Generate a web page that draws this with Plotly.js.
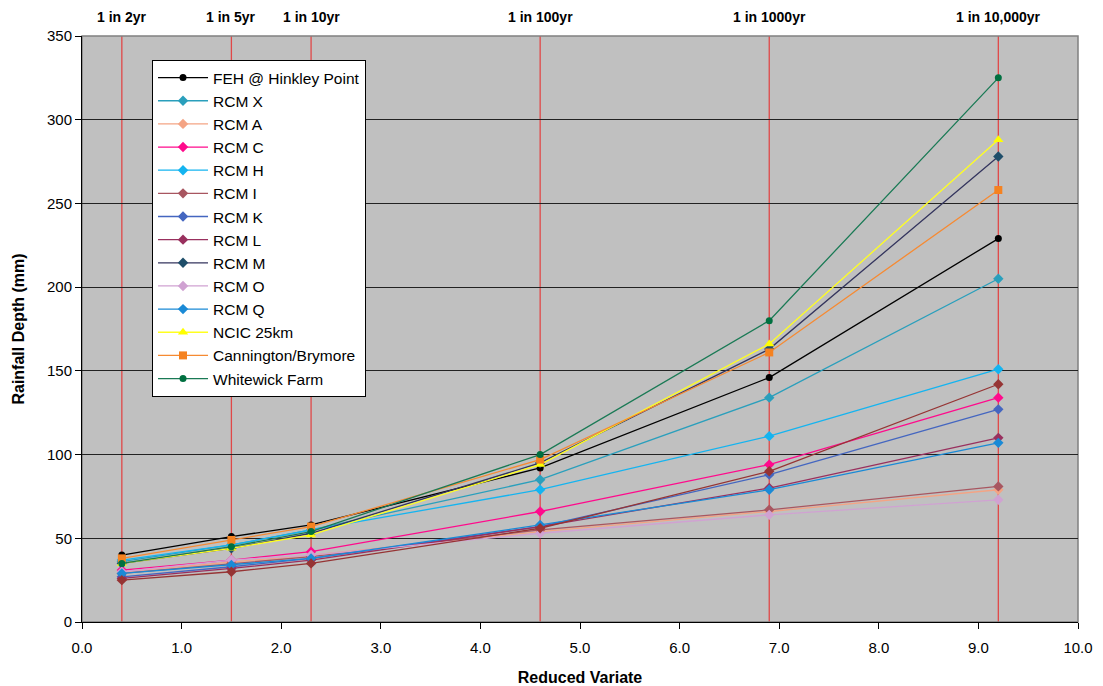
<!DOCTYPE html>
<html>
<head>
<meta charset="utf-8">
<script src="https://cdn.plot.ly/plotly-3.0.1.min.js"></script>
<style>html,body{margin:0;padding:0;background:#fff;}#chart{width:1103px;height:686px;}</style>
</head>
<body>
<div id="chart"></div>
<script>
// Reduced variate positions and return-period labels
var reducedVariate = [0.4, 1.5, 2.3, 4.6, 6.9, 9.2];
var returnLabels = ["1 in 2yr", "1 in 5yr", "1 in 10yr", "1 in 100yr", "1 in 1000yr", "1 in 10,000yr"];

// Series values (rainfall depth, mm)
var feh        = [40, 51, 58, 92, 146, 229];
var rcmX       = [36, 46, 55, 85, 134, 205];
var rcmA       = [30, 36, 40, 54, 66, 79];
var rcmC       = [31, 37, 42, 66, 94, 134];
var rcmH       = [37, 46, 55, 79, 111, 151];
var rcmI       = [29, 35, 39, 55, 67, 81];
var rcmK       = [27, 33, 38, 57, 88, 127];
var rcmL       = [26, 32, 37, 57, 80, 110];
var rcmM       = [35, 44, 53, 95, 163, 278];
var rcmO       = [30, 37, 40, 53, 64, 73];
var rcmQ       = [29, 34, 38, 58, 79, 107];
var unlisted   = [25, 30, 35, 56, 90, 142];
var ncic       = [35, 44, 52, 94, 166, 288];
var cannington = [38, 49, 57, 97, 161, 258];
var whitewick  = [35, 45, 54, 100, 180, 325];

function series(name, y, lineColor, markerColor, symbol, size, showlegend) {
  return {
    type: 'scatter', mode: 'lines+markers', name: name, x: reducedVariate, y: y,
    showlegend: showlegend !== false,
    line: {color: lineColor, width: 1.3},
    marker: {color: markerColor, symbol: symbol, size: size, line: {width: 0}}
  };
}

var traces = [
  series('FEH @ Hinkley Point', feh, '#000000', '#000000', 'circle', 7),
  series('RCM X', rcmX, '#2a9fbc', '#2a9fbc', 'diamond', 8),
  series('RCM A', rcmA, '#f4a484', '#f4a484', 'diamond', 8),
  series('RCM C', rcmC, '#ff0a8c', '#ff0a8c', 'diamond', 8),
  series('RCM H', rcmH, '#14b4f0', '#14b4f0', 'diamond', 8),
  series('RCM I', rcmI, '#a85660', '#a85660', 'diamond', 8),
  series('RCM K', rcmK, '#4466c0', '#4466c0', 'diamond', 8),
  series('RCM L', rcmL, '#99305e', '#99305e', 'diamond', 8),
  series('RCM M', rcmM, '#34355e', '#1f4e6a', 'diamond', 8),
  series('RCM O', rcmO, '#d0a2d2', '#d0a2d2', 'diamond', 8),
  series('RCM Q', rcmQ, '#1a8ad6', '#1a8ad6', 'diamond', 8),
  series('other', unlisted, '#963434', '#963434', 'diamond', 8, false),
  series('NCIC 25km', ncic, '#ffff20', '#ffff00', 'triangle-up', 9),
  series('Cannington/Brymore', cannington, '#f68a32', '#f58220', 'square', 8),
  series('Whitewick Farm', whitewick, '#1a7a55', '#007040', 'circle', 7)
];

var shapes = reducedVariate.map(function (xv) {
  return {type: 'line', xref: 'x', yref: 'paper', x0: xv, x1: xv, y0: 0, y1: 1,
          line: {color: '#e04848', width: 1.3}, layer: 'between'};
});
shapes.push({type: 'rect', xref: 'paper', yref: 'paper', x0: 0, x1: 1, y0: 0, y1: 1,
             line: {color: '#808080', width: 1.5}, layer: 'below'});

var annotations = reducedVariate.map(function (xv, i) {
  return {x: xv, xref: 'x', y: 1, yref: 'paper', yanchor: 'bottom', yshift: 9,
          text: '<b>' + returnLabels[i] + '</b>', showarrow: false,
          font: {family: 'Liberation Sans, Arial, sans-serif', size: 14, color: '#000'}};
});

var layout = {
  width: 1103, height: 686,
  margin: {l: 82, r: 25, t: 36, b: 64},
  paper_bgcolor: '#ffffff', plot_bgcolor: '#c0c0c0',
  font: {family: 'Liberation Sans, Arial, sans-serif', size: 15, color: '#000'},
  showlegend: true,
  xaxis: {
    range: [0, 10], dtick: 1, tick0: 0, tickformat: '.1f',
    showgrid: false, zeroline: false, showline: true, linecolor: '#000', linewidth: 1,
    ticks: 'outside', ticklen: 6, tickcolor: '#000', ticklabelstandoff: 6,
    tickfont: {size: 15},
    title: {text: '<b>Reduced Variate</b>', font: {size: 16}, standoff: 16}
  },
  yaxis: {
    range: [0, 350], dtick: 50, tick0: 0,
    showgrid: true, gridcolor: '#222222', gridwidth: 1, zeroline: false,
    showline: true, linecolor: '#000', linewidth: 1,
    ticks: 'outside', ticklen: 6, tickcolor: '#000',
    tickfont: {size: 15},
    title: {text: '<b>Rainfall Depth (mm)</b>', font: {size: 16}, standoff: 18}
  },
  legend: {
    x: 0.0703, y: 0.959, xanchor: 'left', yanchor: 'top',
    bgcolor: '#ffffff', bordercolor: '#000000', borderwidth: 1,
    font: {size: 15.5, color: '#000'}, itemwidth: 50
  },
  shapes: shapes,
  annotations: annotations
};

Plotly.newPlot('chart', traces, layout, {displayModeBar: false, staticPlot: true});
</script>
</body>
</html>
